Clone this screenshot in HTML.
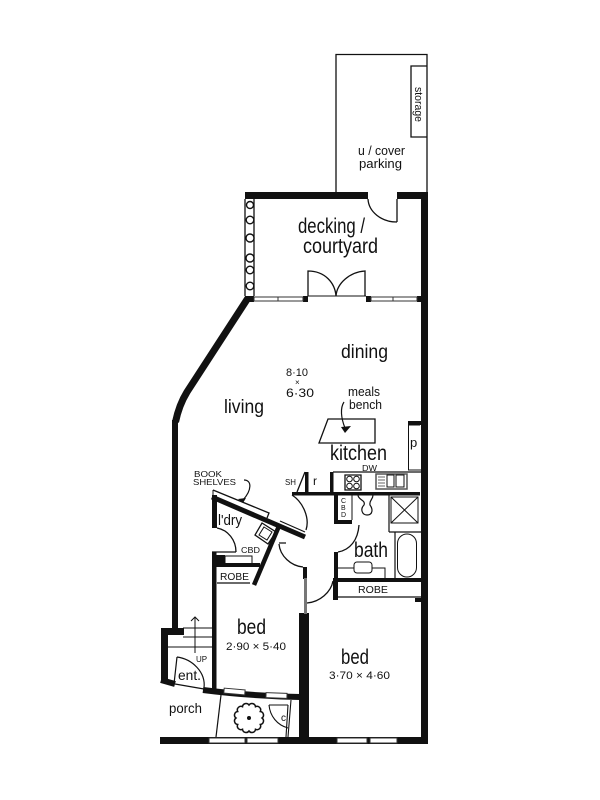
<!DOCTYPE html>
<html><head><meta charset="utf-8"><style>
html,body{margin:0;padding:0;background:#fff;width:600px;height:800px;overflow:hidden}
svg{display:block}
text{font-family:"Liberation Sans",sans-serif;fill:#111}
</style></head><body>
<svg width="600" height="800" viewBox="0 0 600 800" xmlns="http://www.w3.org/2000/svg">
<rect width="600" height="800" fill="#fff"/>
<!-- parking -->
<g fill="none" stroke="#111" stroke-width="1.3">
<path d="M336 192V54.500H427V192"/>
<path d="M427 66H411V137H427"/>
<path d="M245 199V296M254 199V296"/>
<!-- courtyard door -->
<path d="M397 199V222M368 199A29 24 0 0 0 397 222"/>
<path d="M308 296V271C325 271 335 283 336 296C337 283 350 272 365 271V296"/>
<path d="M308 296H366" stroke-width="1"/>
</g>
<!-- planting -->
<g fill="#fff" stroke="#111" stroke-width="1.400">
<circle cx="250" cy="205" r="3.500"/><circle cx="250" cy="220" r="3.800"/><circle cx="250" cy="238" r="4"/>
<circle cx="250" cy="258" r="4"/><circle cx="250" cy="270" r="3.800"/><circle cx="250" cy="286" r="3.800"/>
</g>
<!-- main thick walls -->
<g fill="#111">
<rect x="245" y="192" width="123" height="7"/>
<rect x="397" y="192" width="31" height="7"/>
<rect x="421" y="192" width="7" height="552"/>
<rect x="245" y="296" width="9" height="6"/>
<rect x="303" y="296" width="5" height="6"/><rect x="366" y="296" width="5" height="6"/><rect x="417" y="296" width="4" height="6"/>
<rect x="160" y="737" width="268" height="7"/>
<rect x="299" y="613" width="10" height="125"/>
<rect x="303" y="567" width="4" height="12"/>
<rect x="304" y="578" width="3" height="36" fill="#777"/>
<rect x="172" y="420" width="6" height="210"/>
<rect x="161" y="628" width="23" height="7"/>
<rect x="161" y="628" width="7" height="54"/>
<rect x="212" y="552" width="4.500" height="137"/>
<rect x="212" y="495" width="5" height="33"/>
<rect x="212" y="555" width="13" height="10"/>
<rect x="213" y="563" width="47" height="4"/>
<rect x="292" y="492" width="128" height="3.500"/>
<rect x="330" y="472" width="3.500" height="21"/>
<rect x="305" y="472" width="3.500" height="21"/>
<rect x="334" y="495" width="4" height="29"/>
<rect x="334" y="520" width="18" height="4"/>
<rect x="334" y="552" width="4" height="28"/>
<rect x="333" y="578" width="88" height="4"/>
<rect x="333" y="578" width="5" height="22"/>
<rect x="408" y="421" width="13" height="4"/>
<rect x="415" y="598" width="6" height="4"/>
</g>
<g fill="none" stroke="#111" stroke-linecap="butt">
<path d="M248 298L187 392Q179 405 175.500 422" stroke-width="7"/>
<path d="M161 680L175 684" stroke-width="6"/>
<path d="M203 690Q250 696 300 697" stroke-width="6"/>
<path d="M212 497L305 537" stroke-width="5"/>
<path d="M279 526L254 585" stroke-width="4.500"/>
</g>
<!-- windows -->
<g fill="#fff" stroke="#333" stroke-width="1">
<rect x="254" y="297" width="49" height="4"/><rect x="371" y="297" width="46" height="4"/>
<rect x="209" y="738" width="36" height="5"/><rect x="247" y="738" width="31" height="5"/>
<rect x="337" y="738" width="30" height="5"/><rect x="370" y="738" width="27" height="5"/>
<rect x="224" y="689" width="21" height="5" transform="rotate(5 234 691)"/>
<rect x="266" y="693" width="21" height="5" transform="rotate(2 276 695)"/>
</g>
<g stroke="#333" stroke-width="1"><path d="M278 297V301M393 297V301"/></g>
<!-- interior thin lines -->
<g fill="none" stroke="#111" stroke-width="1">
<path d="M328 419H375V443H319Z" stroke-width="1.300"/>
<path d="M420 425H408.500V470H421"/>
<path d="M333 472H421" stroke-width="1.300"/>
<path d="M305 472L297 492" stroke-width="1.300"/>
<path d="M345 475h16v15h-16z" stroke-width="1.300"/>
<circle cx="349.500" cy="479" r="2.800"/><circle cx="356.500" cy="479" r="2.800"/><circle cx="349.500" cy="486" r="2.800"/><circle cx="356.500" cy="486" r="2.800"/>
<path d="M376 474H407V489H376Z" stroke="#555" stroke-width="1.500"/>
<path d="M378 477H385M378 480H385M378 483H385M378 486H385" stroke="#666"/>
<rect x="387" y="475" width="7" height="12"/><rect x="396" y="475" width="8" height="12"/>
<path d="M352 495V520"/>
<path d="M358 495C358 500 366 500 364 505C360 509 362 515 367 515C373 515 373 509 370 505C369 500 373 500 373 495" stroke-width="1.200"/>
<path d="M389 495V532M389 532H421" stroke-width="1.200"/>
<rect x="391" y="497" width="27" height="26"/>
<path d="M391 497L418 523M418 497L391 523"/>
<path d="M395 532V578" stroke-width="1.200"/>
<rect x="397.500" y="534" width="19" height="43" rx="9.500"/>
<path d="M338 568H354M372 568H385V578"/>
<rect x="354" y="562" width="18" height="11" rx="3" fill="#fff"/>
<path d="M359 525C358 540 350 550 338 552" stroke-width="1.300"/>
<path d="M338 597H421" stroke-width="1.200"/>
<path d="M333 581C331 592 320 602 307 603" stroke-width="1.300"/>
<path d="M292 495C303 502 310 518 306 530" stroke-width="1.300"/>
<path d="M279 544C280 556 291 566 303 567M279 543H286" stroke-width="1.300"/>
<path d="M213 490L269 513L267 518" stroke-width="1.300"/>
<path d="M213 490V495"/>
<path d="M280 521L305 532" stroke-width="1.200"/>
<path d="M217 528C228 530 236 540 236 552M212 552H236" stroke-width="1.300"/>
<path d="M225 556H252V563M225 556V563"/>
<path d="M217 583H250" stroke-width="1.300"/>
<path d="M262 523L276 532L268 544L255 535Z" stroke-width="1.300"/>
<path d="M264 527L272 532L267 540L259 535Z"/>
<!-- stairs -->
<path d="M183 628H212M183 637H212M168 647H212"/>
<path d="M195 617V653M191 621L195 617L199 621"/>
<path d="M177 657L174 684M175 684L204 689M177 657C192 659 206 672 204 688" stroke-width="1.200"/>
<path d="M221 695L216 737" stroke-width="1.200"/>
<path d="M269 705H288M269 705C270 716 277 725 288 728M291 700L288 737M288 705L286 737" stroke-width="1.100"/>
<!-- tree -->
<path d="M262 718A3.600 3.600 0 0 1 260.300 724.500A3.600 3.600 0 0 1 255.500 729.300A3.600 3.600 0 0 1 249 731A3.600 3.600 0 0 1 242.500 729.300A3.600 3.600 0 0 1 237.700 724.500A3.600 3.600 0 0 1 236 718A3.600 3.600 0 0 1 237.700 711.500A3.600 3.600 0 0 1 242.500 706.700A3.600 3.600 0 0 1 249 705A3.600 3.600 0 0 1 255.500 706.700A3.600 3.600 0 0 1 260.300 711.500A3.600 3.600 0 0 1 262 718Z" stroke-width="1.500"/>
<!-- arrows -->
<path d="M344 402C340 408 341 418 345 428" stroke-width="1.200"/>
<path d="M244 480C252 480 252 490 243 500" stroke-width="1.200"/>
</g>
<circle cx="249" cy="718" r="2" fill="#111"/>
<path d="M341 427L351 426L345 433Z" fill="#111"/>
<path d="M238 499L246 498L243 503Z" fill="#111"/>
<!-- labels -->
<text x="298" y="233" font-size="21" textLength="67" lengthAdjust="spacingAndGlyphs">decking /</text>
<text x="303" y="253" font-size="21" textLength="75" lengthAdjust="spacingAndGlyphs">courtyard</text>
<text x="358" y="155" font-size="13" textLength="47" lengthAdjust="spacingAndGlyphs">u / cover</text>
<text x="359" y="168" font-size="13" textLength="43" lengthAdjust="spacingAndGlyphs">parking</text>
<text transform="translate(415 87) rotate(90)" font-size="11" textLength="35" lengthAdjust="spacingAndGlyphs">storage</text>
<text x="341" y="358" font-size="19" textLength="47" lengthAdjust="spacingAndGlyphs">dining</text>
<text x="224" y="413" font-size="19" textLength="40" lengthAdjust="spacingAndGlyphs">living</text>
<text x="286" y="376" font-size="11" textLength="22" lengthAdjust="spacingAndGlyphs">8·10</text>
<text x="295" y="385" font-size="8">×</text>
<text x="286" y="397" font-size="12" textLength="28" lengthAdjust="spacingAndGlyphs">6·30</text>
<text x="348" y="396" font-size="13" textLength="32" lengthAdjust="spacingAndGlyphs">meals</text>
<text x="349" y="409" font-size="13" textLength="33" lengthAdjust="spacingAndGlyphs">bench</text>
<text x="330" y="460" font-size="21" textLength="57" lengthAdjust="spacingAndGlyphs">kitchen</text>
<text x="362" y="471" font-size="8" textLength="15" lengthAdjust="spacingAndGlyphs">DW</text>
<text x="410" y="447" font-size="13">p</text>
<text x="285" y="485" font-size="8" textLength="11" lengthAdjust="spacingAndGlyphs">SH</text>
<text x="313" y="485" font-size="12">r</text>
<text x="341" y="503" font-size="7">C</text>
<text x="341" y="510" font-size="7">B</text>
<text x="341" y="517" font-size="7">D</text>
<text x="354" y="557" font-size="21" textLength="34" lengthAdjust="spacingAndGlyphs">bath</text>
<text x="358" y="593" font-size="10" textLength="30" lengthAdjust="spacingAndGlyphs">ROBE</text>
<text x="194" y="477" font-size="8.500" textLength="28" lengthAdjust="spacingAndGlyphs">BOOK</text>
<text x="193" y="485" font-size="8.500" textLength="43" lengthAdjust="spacingAndGlyphs">SHELVES</text>
<text x="218" y="525" font-size="15" textLength="24" lengthAdjust="spacingAndGlyphs">l'dry</text>
<text x="241" y="553" font-size="8" textLength="19" lengthAdjust="spacingAndGlyphs">CBD</text>
<text x="220" y="580" font-size="10" textLength="29" lengthAdjust="spacingAndGlyphs">ROBE</text>
<text x="237" y="634" font-size="21" textLength="29" lengthAdjust="spacingAndGlyphs">bed</text>
<text x="226" y="650" font-size="11" textLength="60" lengthAdjust="spacingAndGlyphs">2·90 × 5·40</text>
<text x="341" y="664" font-size="21" textLength="28" lengthAdjust="spacingAndGlyphs">bed</text>
<text x="329" y="679" font-size="11" textLength="61" lengthAdjust="spacingAndGlyphs">3·70 × 4·60</text>
<text x="196" y="662" font-size="8">UP</text>
<text x="178" y="680" font-size="14" textLength="23" lengthAdjust="spacingAndGlyphs">ent.</text>
<text x="169" y="713" font-size="14" textLength="33" lengthAdjust="spacingAndGlyphs">porch</text>
<text x="281" y="721" font-size="10">c</text>
</svg>
</body></html>
